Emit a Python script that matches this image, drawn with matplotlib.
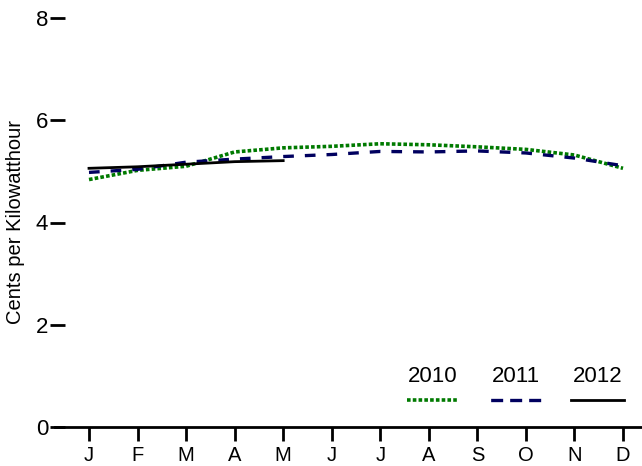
import matplotlib
matplotlib.use("Agg")
import matplotlib.pyplot as plt
from matplotlib.lines import Line2D

months = ["J", "F", "M", "A", "M", "J", "J", "A", "S", "O", "N", "D"]
y2010 = [4.84, 5.02, 5.10, 5.38, 5.46, 5.49, 5.54, 5.52, 5.48, 5.43, 5.32, 5.06]
y2011 = [4.98, 5.04, 5.18, 5.24, 5.29, 5.33, 5.39, 5.38, 5.40, 5.36, 5.26, 5.11]
y2012 = [5.06, 5.09, 5.14, 5.19, 5.21]
series_labels = ["2010", "2011", "2012"]
colors = ["#007a00", "#00005f", "#000000"]

plt.rcParams['font.family'] = ['Liberation Sans', 'DejaVu Sans']

fig = plt.figure(figsize=(6.42, 4.66), dpi=100)
ax = fig.add_axes([65/642, 39/466, 1 - 65/642, (427-18)/466])

styles = [(0, (1, 0.6)), (0, (3.2, 3.3)), '-']
widths = [2.6, 2.4, 2.0]

x = list(range(12))
ax.plot(x, y2010, color=colors[0], linestyle=styles[0], linewidth=widths[0])
ax.plot(x, y2011, color=colors[1], linestyle=styles[1], linewidth=widths[1])
ax.plot(x[:len(y2012)], y2012, color=colors[2], linestyle=styles[2], linewidth=widths[2])

ax.set_xlim(-24/48.55, 11 + 19/48.55)
ax.set_ylim(0, 8)
ax.set_xticks(x)
ax.set_xticklabels(months, fontsize=14.5)
ax.set_yticks([0, 2, 4, 6, 8])
ax.set_yticklabels(["0", "2", "4", "6", "8"], fontsize=16)
ax.tick_params(axis='y', length=11, width=2, pad=1)
ax.tick_params(axis='x', length=10, width=2, pad=4)

for s in ['top', 'right', 'left']:
    ax.spines[s].set_visible(False)
ax.spines['bottom'].set_linewidth(2)
ax.spines['bottom'].set_bounds(-0.7, 11.4)

fig.text(16/642, 1 - 222/466, "Cents per Kilowatthour", rotation=90,
         ha='center', va='center', fontsize=14.5)

# manual legend: labels above line samples
leg_styles = [(0, (1, 0.6)), (5.2, (3.6, 2.1)), '-']
leg_x = [(407, 459), (489, 542), (571, 624)]
for lab, col, st, lw, (x0, x1) in zip(series_labels, colors, leg_styles, widths, leg_x):
    fig.text((x0 + x1) / 2 / 642, 1 - 376/466, lab, ha='center', va='center', fontsize=16)
    fig.add_artist(Line2D([x0/642, x1/642], [1 - 400/466, 1 - 400/466],
                          color=col, linestyle=st, linewidth=lw,
                          transform=fig.transFigure))

fig.savefig("out.png", dpi=100)
